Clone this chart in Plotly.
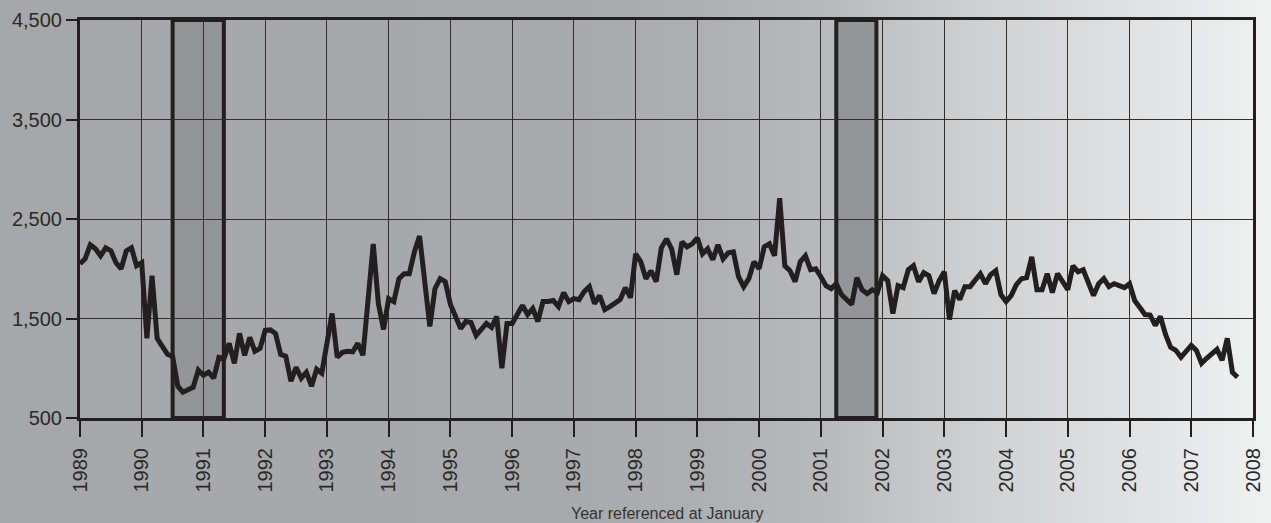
import plotly.graph_objects as go

# Monthly values, January through December of each year
y1989 = [2050, 2100, 2240, 2200, 2130, 2210, 2180, 2060, 2000, 2180, 2210, 2030]
y1990 = [2060, 1300, 1930, 1300, 1220, 1140, 1120, 820, 760, 790, 810, 980]
y1991 = [930, 960, 900, 1110, 1100, 1250, 1050, 1350, 1130, 1310, 1170, 1200]
y1992 = [1380, 1385, 1350, 1140, 1120, 870, 1010, 900, 960, 820, 990, 950]
y1993 = [1250, 1550, 1110, 1160, 1170, 1165, 1250, 1130, 1690, 2250, 1650, 1390]
y1994 = [1700, 1670, 1900, 1950, 1950, 2170, 2330, 1880, 1420, 1800, 1900, 1870]
y1995 = [1640, 1520, 1400, 1470, 1460, 1330, 1390, 1450, 1410, 1520, 1000, 1450]
y1996 = [1450, 1550, 1630, 1540, 1600, 1470, 1670, 1670, 1680, 1620, 1760, 1670]
y1997 = [1700, 1690, 1770, 1820, 1650, 1730, 1590, 1620, 1660, 1690, 1810, 1710]
y1998 = [2150, 2070, 1900, 1980, 1870, 2210, 2300, 2200, 1940, 2270, 2220, 2250]
y1999 = [2310, 2150, 2200, 2090, 2240, 2100, 2160, 2170, 1920, 1820, 1900, 2070]
y2000 = [2000, 2220, 2250, 2130, 2710, 2030, 1980, 1870, 2070, 2130, 1990, 2000]
y2001 = [1920, 1830, 1800, 1850, 1740, 1690, 1640, 1910, 1790, 1750, 1790, 1760]
y2002 = [1930, 1880, 1550, 1830, 1810, 1990, 2030, 1870, 1960, 1930, 1750, 1880]
y2003 = [1970, 1490, 1780, 1690, 1820, 1820, 1890, 1950, 1850, 1940, 1980, 1740]
y2004 = [1670, 1730, 1840, 1900, 1910, 2120, 1790, 1790, 1950, 1760, 1950, 1880]
y2005 = [1790, 2030, 1970, 1990, 1850, 1730, 1850, 1900, 1820, 1850, 1830, 1810]
y2006 = [1850, 1680, 1610, 1540, 1535, 1430, 1520, 1340, 1210, 1180, 1110, 1180]
y2007 = [1230, 1180, 1050, 1100, 1150, 1190, 1080, 1300, 960, 910]

yearly = [y1989, y1990, y1991, y1992, y1993, y1994, y1995, y1996, y1997, y1998,
          y1999, y2000, y2001, y2002, y2003, y2004, y2005, y2006, y2007]
first_year = 1989

# Recession periods (fractional years)
recession_start = [1990.5, 2001.25]
recession_end = [1991.33, 2001.9]

y_ticks = [500, 1500, 2500, 3500, 4500]
x_ticks = list(range(1989, 2009))

x_vals, y_vals = [], []
for k, months in enumerate(yearly):
    for m, v in enumerate(months):
        x_vals.append(first_year + k + m / 12.0)
        y_vals.append(v)

W, H = 1271, 523
ML, MR, MT, MB = 80, 18, 20, 105
PW, PH = W - ML - MR, H - MT - MB

INK = "#231f20"

# horizontal background gradient (pixel position -> rgb)
stops = [(0, (166, 167, 170)), (560, (168, 169, 172)), (700, (174, 175, 178)),
         (830, (185, 186, 189)), (900, (196, 197, 199)), (1000, (210, 211, 213)),
         (1100, (221, 222, 224)), (1200, (232, 233, 234)), (1271, (240, 241, 241))]


def grad_color(px):
    for (a, ca), (b, cb) in zip(stops[:-1], stops[1:]):
        if a <= px <= b:
            t = (px - a) / (b - a)
            c = [round(ca[i] + (cb[i] - ca[i]) * t) for i in range(3)]
            return "rgb(%d,%d,%d)" % tuple(c)
    return "rgb(%d,%d,%d)" % stops[-1][1]


shapes = []
step = 4
for px in range(0, W, step):
    shapes.append(dict(
        type="rect", xref="paper", yref="paper", layer="below",
        x0=(px - ML) / PW, x1=(px + step + 1 - ML) / PW,
        y0=-(MB + 2) / PH, y1=1 + (MT + 2) / PH,
        line=dict(width=0), fillcolor=grad_color(px + step / 2)))

for s, e in zip(recession_start, recession_end):
    shapes.append(dict(
        type="rect", xref="x", yref="paper", layer="below",
        x0=s, x1=e, y0=0, y1=1,
        fillcolor="#949598", line=dict(color=INK, width=4)))

fig = go.Figure()
fig.add_trace(go.Scatter(
    x=x_vals, y=y_vals, mode="lines",
    line=dict(color=INK, width=5),
    hoverinfo="skip", showlegend=False))

tick_font = dict(family="Liberation Sans, Arial, sans-serif", size=20, color="#2a2a2a")

fig.update_layout(
    width=W, height=H,
    margin=dict(l=ML, r=MR, t=MT, b=MB, autoexpand=False),
    paper_bgcolor="#a6a7aa",
    plot_bgcolor="rgba(0,0,0,0)",
    shapes=shapes,
    showlegend=False,
    xaxis=dict(
        range=[1989, 2008], tickvals=x_ticks, ticktext=[str(t) for t in x_ticks],
        tickangle=-90, tickfont=tick_font, automargin=False,
        ticks="outside", ticklen=16, tickwidth=1.5, tickcolor=INK,
        showgrid=True, gridcolor="#2e2e2e", gridwidth=1,
        showline=True, linecolor=INK, linewidth=3, mirror=True,
        zeroline=False, ticklabelstandoff=3),
    yaxis=dict(
        range=[500, 4500], tickvals=y_ticks, tickformat=",",
        tickfont=tick_font, automargin=False,
        ticks="outside", ticklen=11, tickwidth=1.5, tickcolor=INK,
        showgrid=True, gridcolor="#2e2e2e", gridwidth=1,
        showline=True, linecolor=INK, linewidth=3, mirror=True,
        zeroline=False, ticklabelstandoff=0),
    annotations=[dict(
        text="Year referenced at January", xref="paper", yref="paper",
        x=0.5, y=-(513 - (MT + PH)) / PH, xanchor="center", yanchor="middle",
        showarrow=False,
        font=dict(family="Liberation Sans, Arial, sans-serif", size=16, color="#333333"))],
)

fig.write_html("out.html")
